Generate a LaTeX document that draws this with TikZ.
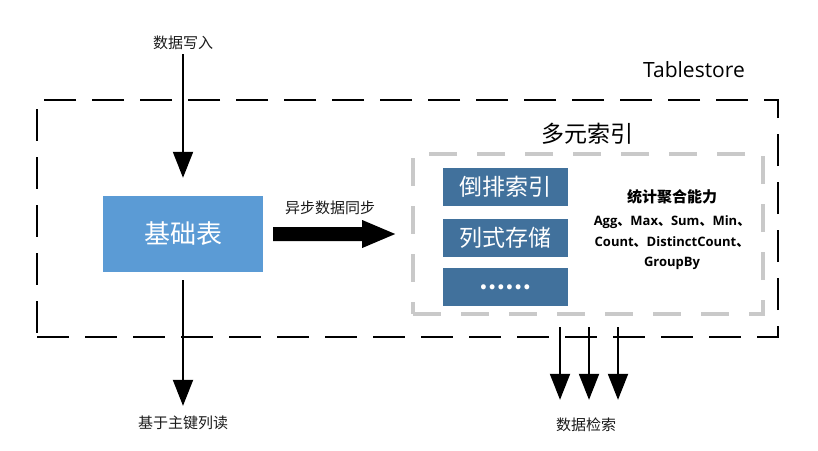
\documentclass[tikz,border=0pt]{standalone}
\usepackage{fontspec}
\setmainfont{Open Sans}
\newfontfamily\cjk{Noto Sans CJK SC}
\usetikzlibrary{arrows.meta}
\definecolor{baseblue}{HTML}{5B9BD5}
\definecolor{idxblue}{HTML}{41719C}
\definecolor{framegray}{HTML}{C9C9C9}
\definecolor{txt}{HTML}{1A1A1A}
\begin{document}
\begin{tikzpicture}[x=1pt,y=-1pt,
  arr/.style={line width=2pt, -{Triangle[length=26pt,width=20pt]}},
  lbl/.style={font=\cjk\fontsize{15}{18}\selectfont, inner sep=0pt, text=txt},
  idx/.style={fill=idxblue, minimum width=125pt, minimum height=38pt, inner sep=0pt, text=white, font=\cjk\fontsize{23}{26}\selectfont},
]
\useasboundingbox (0,0) rectangle (818,450);
% frames
\node[draw=black, line width=2pt, dash pattern=on 32pt off 16pt, minimum width=741pt, minimum height=237pt, inner sep=0pt] (outer) at (407.5,218.5) {};
\node[draw=framegray, line width=4pt, dash pattern=on 28pt off 20pt, minimum width=350pt, minimum height=160pt, inner sep=0pt] (inner) at (588,234) {};
\node[font=\fontsize{21}{24}\selectfont, inner sep=0pt] (ts) at (694,70) {Tablestore};
\node[font=\cjk\fontsize{23}{26}\selectfont, inner sep=0pt] (dy) at (587,134) {多元索引};
% base table
\node[fill=baseblue, minimum width=160pt, minimum height=76pt, inner sep=0pt, text=white, font=\cjk\fontsize{26}{30}\selectfont] (base) at (183,234) {基础表};
% index boxes
\node[idx] (i1) at (505.5,187) {倒排索引};
\node[idx] (i2) at (505.5,238) {列式存储};
\node[idx, font=\cjk\bfseries\fontsize{23}{26}\selectfont] (i3) at (505.5,287) {……};
% stats
\node[font=\cjk\bfseries\fontsize{15}{18}\selectfont, inner sep=0pt] (st) at (672,197) {统计聚合能力};
\node[font=\bfseries\fontsize{13}{20.5}\selectfont, align=center, inner sep=0pt] (ag) at (672,243) {Agg{\cjk 、}Max{\cjk 、}Sum{\cjk 、}Min{\cjk 、}\\Count{\cjk 、}DistinctCount{\cjk 、}\\GroupBy};
% big sync arrow
\coordinate (a0) at ([xshift=10pt]base.east);
\fill (a0) ++(0,-7) -- ++(89,0) -- ++(0,-7) -- ++(33,14) -- ++(-33,14) -- ++(0,-7) -- ++(-89,0) -- cycle;
\node[lbl] (sync) at (330,208) {异步数据同步};
% write
\node[lbl] (wr) at (183,43) {数据写入};
\draw[arr, shorten <=4pt, shorten >=18pt] (wr.south) -- (base.north);
% read
\node[lbl] (rd) at (183,423) {基于主键列读};
\draw[arr, shorten <=8pt, shorten >=10pt] (base.south) -- (rd.north);
% search
\node[lbl] (sr) at (586,425) {数据检索};
\coordinate (s1) at (560,327);
\coordinate (s2) at (589,327);
\coordinate (s3) at (618,327);
\draw[arr, shorten >=18pt] (s1) -- (s1 |- sr.north);
\draw[arr, shorten >=18pt] (s2) -- (s2 |- sr.north);
\draw[arr, shorten >=18pt] (s3) -- (s3 |- sr.north);
\end{tikzpicture}
\end{document}
